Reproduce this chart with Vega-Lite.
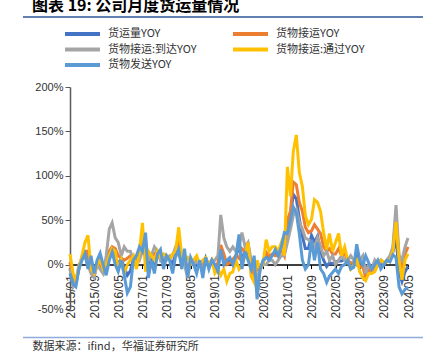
{
  "$schema": "https://vega.github.io/schema/vega-lite/v6.json",
  "autosize": {"type": "none"},
  "width": 338,
  "height": 222,
  "padding": {"left": 70, "top": 87, "right": 26, "bottom": 54},
  "background": "white",
  "config": {"view": {"stroke": null}, "font": "Liberation Sans", "axisX": {"labelOverlap": false}},
  "title": {"text": "图表 19: 公司月度货运量情况", "anchor": "start", "font": "Noto Sans CJK SC", "fontSize": 16, "fontWeight": "bold", "color": "#000", "dx": -38, "offset": 2, "frame": "group"},
  "datasets": {
    "t": [
      {"d":"2015-01","货运量YOY":-4,"货物接运YOY":3,"货物接运:到达YOY":-5,"货物接运:通过YOY":12,"货物发送YOY":-10},
      {"d":"2015-02","货运量YOY":-20,"货物接运YOY":-18,"货物接运:到达YOY":-25,"货物接运:通过YOY":-10,"货物发送YOY":-22},
      {"d":"2015-03","货运量YOY":-22,"货物接运YOY":-19,"货物接运:到达YOY":-20,"货物接运:通过YOY":-18,"货物发送YOY":-25},
      {"d":"2015-04","货运量YOY":-4,"货物接运YOY":-3,"货物接运:到达YOY":0,"货物接运:通过YOY":-5,"货物发送YOY":-5},
      {"d":"2015-05","货运量YOY":6,"货物接运YOY":8,"货物接运:到达YOY":5,"货物接运:通过YOY":10,"货物发送YOY":5},
      {"d":"2015-06","货运量YOY":13,"货物接运YOY":15,"货物接运:到达YOY":10,"货物接运:通过YOY":25,"货物发送YOY":12},
      {"d":"2015-07","货运量YOY":5,"货物接运YOY":15,"货物接运:到达YOY":0,"货物接运:通过YOY":33,"货物发送YOY":-5},
      {"d":"2015-08","货运量YOY":1,"货物接运YOY":-8,"货物接运:到达YOY":-10,"货物接运:通过YOY":-5,"货物发送YOY":10},
      {"d":"2015-09","货运量YOY":-11,"货物接运YOY":-12,"货物接运:到达YOY":-15,"货物接运:通过YOY":-10,"货物发送YOY":-10},
      {"d":"2015-10","货运量YOY":2,"货物接运YOY":0,"货物接运:到达YOY":0,"货物接运:通过YOY":0,"货物发送YOY":5},
      {"d":"2015-11","货运量YOY":6,"货物接运YOY":0,"货物接运:到达YOY":-5,"货物接运:通过YOY":5,"货物发送YOY":13},
      {"d":"2015-12","货运量YOY":-4,"货物接运YOY":-8,"货物接运:到达YOY":-10,"货物接运:通过YOY":-5,"货物发送YOY":0},
      {"d":"2016-01","货运量YOY":-3,"货物接运YOY":5,"货物接运:到达YOY":10,"货物接运:通过YOY":0,"货物发送YOY":-12},
      {"d":"2016-02","货运量YOY":10,"货物接运YOY":15,"货物接运:到达YOY":40,"货物接运:通过YOY":10,"货物发送YOY":5},
      {"d":"2016-03","货运量YOY":17,"货物接运YOY":20,"货物接运:到达YOY":47,"货物接运:通过YOY":18,"货物发送YOY":14},
      {"d":"2016-04","货运量YOY":9,"货物接运YOY":18,"货物接运:到达YOY":30,"货物接运:通过YOY":15,"货物发送YOY":0},
      {"d":"2016-05","货运量YOY":1,"货物接运YOY":10,"货物接运:到达YOY":25,"货物接运:通过YOY":-5,"货物发送YOY":-8},
      {"d":"2016-06","货运量YOY":6,"货物接运YOY":7,"货物接运:到达YOY":10,"货物接运:通过YOY":5,"货物发送YOY":5},
      {"d":"2016-07","货运量YOY":-3,"货物接运YOY":5,"货物接运:到达YOY":20,"货物接运:通过YOY":-10,"货物发送YOY":-12},
      {"d":"2016-08","货运量YOY":-12,"货物接运YOY":7,"货物接运:到达YOY":15,"货物接运:通过YOY":0,"货物发送YOY":-32},
      {"d":"2016-09","货运量YOY":-7,"货物接运YOY":10,"货物接运:到达YOY":15,"货物接运:通过YOY":5,"货物发送YOY":-25},
      {"d":"2016-10","货运量YOY":6,"货物接运YOY":7,"货物接运:到达YOY":5,"货物接运:通过YOY":10,"货物发送YOY":5},
      {"d":"2016-11","货运量YOY":6,"货物接运YOY":2,"货物接运:到达YOY":10,"货物接运:通过YOY":-5,"货物发送YOY":10},
      {"d":"2016-12","货运量YOY":15,"货物接运YOY":10,"货物接运:到达YOY":5,"货物接运:通过YOY":15,"货物发送YOY":20},
      {"d":"2017-01","货运量YOY":21,"货物接运YOY":28,"货物接运:到达YOY":15,"货物接运:通过YOY":47,"货物发送YOY":15},
      {"d":"2017-02","货运量YOY":23,"货物接运YOY":10,"货物接运:到达YOY":28,"货物接运:通过YOY":-8,"货物发送YOY":36},
      {"d":"2017-03","货运量YOY":-2,"货物接运YOY":10,"货物接运:到达YOY":5,"货物接运:通过YOY":15,"货物发送YOY":-15},
      {"d":"2017-04","货运量YOY":7,"货物接运YOY":10,"货物接运:到达YOY":10,"货物接运:通过YOY":10,"货物发送YOY":5},
      {"d":"2017-05","货运量YOY":1,"货物接运YOY":12,"货物接运:到达YOY":20,"货物接运:通过YOY":5,"货物发送YOY":-10},
      {"d":"2017-06","货运量YOY":13,"货物接运YOY":15,"货物接运:到达YOY":15,"货物接运:通过YOY":15,"货物发送YOY":12},
      {"d":"2017-07","货运量YOY":11,"货物接运YOY":6,"货物接运:到达YOY":5,"货物接运:通过YOY":8,"货物发送YOY":17},
      {"d":"2017-08","货运量YOY":3,"货物接运YOY":11,"货物接运:到达YOY":10,"货物接运:通过YOY":12,"货物发送YOY":-5},
      {"d":"2017-09","货运量YOY":8,"货物接运YOY":7,"货物接运:到达YOY":5,"货物接运:通过YOY":10,"货物发送YOY":10},
      {"d":"2017-10","货运量YOY":6,"货物接运YOY":7,"货物接运:到达YOY":10,"货物接运:通过YOY":5,"货物发送YOY":5},
      {"d":"2017-11","货运量YOY":0,"货物接运YOY":11,"货物接运:到达YOY":10,"货物接运:通过YOY":12,"货物发送YOY":-10},
      {"d":"2017-12","货运量YOY":13,"货物接运YOY":17,"货物接运:到达YOY":20,"货物接运:通过YOY":15,"货物发送YOY":10},
      {"d":"2018-01","货运量YOY":21,"货物接运YOY":26,"货物接运:到达YOY":10,"货物接运:通过YOY":42,"货物发送YOY":17},
      {"d":"2018-02","货运量YOY":1,"货物接运YOY":7,"货物接运:到达YOY":5,"货物接运:通过YOY":10,"货物发送YOY":-5},
      {"d":"2018-03","货运量YOY":10,"货物接运YOY":3,"货物接运:到达YOY":0,"货物接运:通过YOY":5,"货物发送YOY":18},
      {"d":"2018-04","货运量YOY":-9,"货物接运YOY":-3,"货物接运:到达YOY":-15,"货物接运:通过YOY":8,"货物发送YOY":-15},
      {"d":"2018-05","货运量YOY":5,"货物接运YOY":2,"货物接运:到达YOY":5,"货物接运:通过YOY":0,"货物发送YOY":8},
      {"d":"2018-06","货运量YOY":1,"货物接运YOY":3,"货物接运:到达YOY":0,"货物接运:通过YOY":5,"货物发送YOY":0},
      {"d":"2018-07","货运量YOY":-1,"货物接运YOY":7,"货物接运:到达YOY":5,"货物接运:通过YOY":10,"货物发送YOY":-10},
      {"d":"2018-08","货运量YOY":2,"货物接运YOY":0,"货物接运:到达YOY":0,"货物接运:通过YOY":0,"货物发送YOY":5},
      {"d":"2018-09","货运量YOY":-7,"货物接运YOY":0,"货物接运:到达YOY":-5,"货物接运:通过YOY":5,"货物发送YOY":-15},
      {"d":"2018-10","货运量YOY":7,"货物接运YOY":6,"货物接运:到达YOY":5,"货物接运:通过YOY":8,"货物发送YOY":8},
      {"d":"2018-11","货运量YOY":-2,"货物接运YOY":0,"货物接运:到达YOY":0,"货物接运:通过YOY":0,"货物发送YOY":-5},
      {"d":"2018-12","货运量YOY":5,"货物接运YOY":5,"货物接运:到达YOY":5,"货物接运:通过YOY":5,"货物发送YOY":5},
      {"d":"2019-01","货运量YOY":-1,"货物接运YOY":-2,"货物接运:到达YOY":5,"货物接运:通过YOY":-10,"货物发送YOY":0},
      {"d":"2019-02","货运量YOY":-3,"货物接运YOY":2,"货物接运:到达YOY":10,"货物接运:通过YOY":-5,"货物发送YOY":-8},
      {"d":"2019-03","货运量YOY":19,"货物接运YOY":22,"货物接运:到达YOY":56,"货物接运:通过YOY":-12,"货物发送YOY":17},
      {"d":"2019-04","货运量YOY":6,"货物接运YOY":12,"货物接运:到达YOY":30,"货物接运:通过YOY":-5,"货物发送YOY":0},
      {"d":"2019-05","货运量YOY":2,"货物接运YOY":0,"货物接运:到达YOY":20,"货物接运:通过YOY":-19,"货物发送YOY":5},
      {"d":"2019-06","货运量YOY":5,"货物接运YOY":2,"货物接运:到达YOY":15,"货物接运:通过YOY":-10,"货物发送YOY":8},
      {"d":"2019-07","货运量YOY":3,"货物接运YOY":6,"货物接运:到达YOY":20,"货物接运:通过YOY":-8,"货物发送YOY":0},
      {"d":"2019-08","货运量YOY":10,"货物接运YOY":10,"货物接运:到达YOY":15,"货物接运:通过YOY":5,"货物发送YOY":10},
      {"d":"2019-09","货运量YOY":20,"货物接运YOY":7,"货物接运:到达YOY":20,"货物接运:通过YOY":-5,"货物发送YOY":34},
      {"d":"2019-10","货运量YOY":6,"货物接运YOY":18,"货物接运:到达YOY":36,"货物接运:通过YOY":0,"货物发送YOY":-5},
      {"d":"2019-11","货运量YOY":15,"货物接运YOY":15,"货物接运:到达YOY":20,"货物接运:通过YOY":10,"货物发送YOY":15},
      {"d":"2019-12","货运量YOY":15,"货物接运YOY":25,"货物接运:到达YOY":25,"货物接运:通过YOY":25,"货物发送YOY":5},
      {"d":"2020-01","货运量YOY":-4,"货物接运YOY":-4,"货物接运:到达YOY":5,"货物接运:通过YOY":-13,"货物发送YOY":-5},
      {"d":"2020-02","货运量YOY":-1,"货物接运YOY":-12,"货物接运:到达YOY":-5,"货物接运:通过YOY":-20,"货物发送YOY":10},
      {"d":"2020-03","货运量YOY":-22,"货物接运YOY":-5,"货物接运:到达YOY":-15,"货物接运:通过YOY":5,"货物发送YOY":-39},
      {"d":"2020-04","货运量YOY":-5,"货物接运YOY":-5,"货物接运:到达YOY":-5,"货物接运:通过YOY":-5,"货物发送YOY":-5},
      {"d":"2020-05","货运量YOY":3,"货物接运YOY":1,"货物接运:到达YOY":0,"货物接运:通过YOY":2,"货物发送YOY":5},
      {"d":"2020-06","货运量YOY":11,"货物接运YOY":14,"货物接运:到达YOY":0,"货物接运:通过YOY":28,"货物发送YOY":8},
      {"d":"2020-07","货运量YOY":7,"货物接运YOY":10,"货物接运:到达YOY":5,"货物接运:通过YOY":15,"货物发送YOY":5},
      {"d":"2020-08","货运量YOY":11,"货物接运YOY":12,"货物接运:到达YOY":5,"货物接运:通过YOY":20,"货物发送YOY":10},
      {"d":"2020-09","货运量YOY":13,"货物接运YOY":10,"货物接运:到达YOY":0,"货物接运:通过YOY":20,"货物发送YOY":17},
      {"d":"2020-10","货运量YOY":10,"货物接运YOY":10,"货物接运:到达YOY":5,"货物接运:通过YOY":15,"货物发送YOY":10},
      {"d":"2020-11","货运量YOY":18,"货物接运YOY":17,"货物接运:到达YOY":10,"货物接运:通过YOY":25,"货物发送YOY":20},
      {"d":"2020-12","货运量YOY":23,"货物接运YOY":10,"货物接运:到达YOY":10,"货物接运:通过YOY":10,"货物发送YOY":36},
      {"d":"2021-01","货运量YOY":42,"货物接运YOY":50,"货物接运:到达YOY":25,"货物接运:通过YOY":110,"货物发送YOY":35},
      {"d":"2021-02","货运量YOY":55,"货物接运YOY":60,"货物接运:到达YOY":40,"货物接运:通过YOY":77,"货物发送YOY":50},
      {"d":"2021-03","货运量YOY":79,"货物接运YOY":93,"货物接运:到达YOY":55,"货物接运:通过YOY":127,"货物发送YOY":65},
      {"d":"2021-04","货运量YOY":74,"货物接运YOY":90,"货物接运:到达YOY":62,"货物接运:通过YOY":146,"货物发送YOY":58},
      {"d":"2021-05","货运量YOY":52,"货物接运YOY":70,"货物接运:到达YOY":48,"货物接运:通过YOY":104,"货物发送YOY":35},
      {"d":"2021-06","货运量YOY":32,"货物接运YOY":60,"货物接运:到达YOY":40,"货物接运:通过YOY":88,"货物发送YOY":5},
      {"d":"2021-07","货运量YOY":18,"货物接运YOY":42,"货物接运:到达YOY":30,"货物接运:通过YOY":55,"货物发送YOY":-5},
      {"d":"2021-08","货运量YOY":18,"货物接运YOY":36,"货物接运:到达YOY":28,"货物接运:通过YOY":45,"货物发送YOY":0},
      {"d":"2021-09","货运量YOY":33,"货物接运YOY":38,"货物接运:到达YOY":25,"货物接运:通过YOY":51,"货物发送YOY":28},
      {"d":"2021-10","货运量YOY":25,"货物接运YOY":45,"货物接运:到达YOY":20,"货物接运:通过YOY":73,"货物发送YOY":5},
      {"d":"2021-11","货运量YOY":32,"货物接运YOY":40,"货物接运:到达YOY":30,"货物接运:通过YOY":70,"货物发送YOY":25},
      {"d":"2021-12","货运量YOY":15,"货物接运YOY":35,"货物接运:到达YOY":20,"货物接运:通过YOY":60,"货物发送YOY":-5},
      {"d":"2022-01","货运量YOY":5,"货物接运YOY":20,"货物接运:到达YOY":10,"货物接运:通过YOY":36,"货物发送YOY":-10},
      {"d":"2022-02","货运量YOY":-2,"货物接运YOY":15,"货物接运:到达YOY":15,"货物接运:通过YOY":17,"货物发送YOY":-20},
      {"d":"2022-03","货运量YOY":2,"货物接运YOY":18,"货物接运:到达YOY":5,"货物接运:通过YOY":35,"货物发送YOY":-13},
      {"d":"2022-04","货运量YOY":1,"货物接运YOY":12,"货物接运:到达YOY":10,"货物接运:通过YOY":15,"货物发送YOY":-9},
      {"d":"2022-05","货运量YOY":3,"货物接运YOY":12,"货物接运:到达YOY":0,"货物接运:通过YOY":25,"货物发送YOY":-5},
      {"d":"2022-06","货运量YOY":4,"货物接运YOY":18,"货物接运:到达YOY":5,"货物接运:通过YOY":35,"货物发送YOY":-10},
      {"d":"2022-07","货运量YOY":4,"货物接运YOY":10,"货物接运:到达YOY":10,"货物接运:通过YOY":10,"货物发送YOY":-2},
      {"d":"2022-08","货运量YOY":6,"货物接运YOY":12,"货物接运:到达YOY":5,"货物接运:通过YOY":20,"货物发送YOY":0},
      {"d":"2022-09","货运量YOY":5,"货物接运YOY":5,"货物接运:到达YOY":5,"货物接运:通过YOY":5,"货物发送YOY":5},
      {"d":"2022-10","货运量YOY":-1,"货物接运YOY":2,"货物接运:到达YOY":10,"货物接运:通过YOY":-5,"货物发送YOY":-5},
      {"d":"2022-11","货运量YOY":0,"货物接运YOY":2,"货物接运:到达YOY":5,"货物接运:通过YOY":0,"货物发送YOY":-3},
      {"d":"2022-12","货运量YOY":12,"货物接运YOY":2,"货物接运:到达YOY":0,"货物接运:通过YOY":5,"货物发送YOY":23},
      {"d":"2023-01","货运量YOY":1,"货物接运YOY":-2,"货物接运:到达YOY":5,"货物接运:通过YOY":-8,"货物发送YOY":5},
      {"d":"2023-02","货运量YOY":-1,"货物接运YOY":-3,"货物接运:到达YOY":10,"货物接运:通过YOY":-15,"货物发送YOY":0},
      {"d":"2023-03","货运量YOY":-2,"货物接运YOY":-14,"货物接运:到达YOY":-10,"货物接运:通过YOY":-18,"货物发送YOY":10},
      {"d":"2023-04","货运量YOY":-1,"货物接运YOY":-5,"货物接运:到达YOY":0,"货物接运:通过YOY":-10,"货物发送YOY":2},
      {"d":"2023-05","货运量YOY":-6,"货物接运YOY":-8,"货物接运:到达YOY":-5,"货物接运:通过YOY":-10,"货物发送YOY":-5},
      {"d":"2023-06","货运量YOY":-1,"货物接运YOY":-2,"货物接运:到达YOY":5,"货物接运:通过YOY":-8,"货物发送YOY":0},
      {"d":"2023-07","货运量YOY":2,"货物接运YOY":0,"货物接运:到达YOY":0,"货物接运:通过YOY":0,"货物发送YOY":5},
      {"d":"2023-08","货运量YOY":0,"货物接运YOY":5,"货物接运:到达YOY":5,"货物接运:通过YOY":5,"货物发送YOY":-5},
      {"d":"2023-09","货运量YOY":1,"货物接运YOY":2,"货物接运:到达YOY":0,"货物接运:通过YOY":3,"货物发送YOY":0},
      {"d":"2023-10","货运量YOY":4,"货物接运YOY":4,"货物接运:到达YOY":5,"货物接运:通过YOY":3,"货物发送YOY":5},
      {"d":"2023-11","货运量YOY":5,"货物接运YOY":7,"货物接运:到达YOY":10,"货物接运:通过YOY":5,"货物发送YOY":3},
      {"d":"2023-12","货运量YOY":14,"货物接运YOY":17,"货物接运:到达YOY":20,"货物接运:通过YOY":15,"货物发送YOY":11},
      {"d":"2024-01","货运量YOY":31,"货物接运YOY":55,"货物接运:到达YOY":67,"货物接运:通过YOY":48,"货物发送YOY":8},
      {"d":"2024-02","货运量YOY":-9,"货物接运YOY":7,"货物接运:到达YOY":10,"货物接运:通过YOY":5,"货物发送YOY":-25},
      {"d":"2024-03","货运量YOY":-19,"货物接运YOY":-5,"货物接运:到达YOY":5,"货物接运:通过YOY":-17,"货物发送YOY":-33},
      {"d":"2024-04","货运量YOY":-8,"货物接运YOY":12,"货物接运:到达YOY":20,"货物接运:通过YOY":5,"货物发送YOY":-28},
      {"d":"2024-05","货运量YOY":-2,"货物接运YOY":20,"货物接运:到达YOY":30,"货物接运:通过YOY":12,"货物发送YOY":-25}
    ]
  },
  "resolve": {"scale": {"x": "independent", "y": "independent"}},
  "layer": [
    {
      "data": {"name": "t"},
      "transform": [{"fold": ["货运量YOY", "货物接运YOY", "货物接运:到达YOY", "货物接运:通过YOY", "货物发送YOY"], "as": ["s", "v"]}],
      "mark": {"type": "line", "strokeWidth": 3},
      "encoding": {
        "x": {
          "field": "d", "type": "temporal",
          "scale": {"type": "utc", "domain": [{"year": 2015, "month": 1, "date": 1, "utc": true}, {"year": 2024, "month": 5, "date": 1, "utc": true}]},
          "axis": {
            "values": [
              {"year": 2015, "month": 1, "date": 1, "utc": true},
              {"year": 2015, "month": 9, "date": 1, "utc": true},
              {"year": 2016, "month": 5, "date": 1, "utc": true},
              {"year": 2017, "month": 1, "date": 1, "utc": true},
              {"year": 2017, "month": 9, "date": 1, "utc": true},
              {"year": 2018, "month": 5, "date": 1, "utc": true},
              {"year": 2019, "month": 1, "date": 1, "utc": true},
              {"year": 2019, "month": 9, "date": 1, "utc": true},
              {"year": 2020, "month": 5, "date": 1, "utc": true},
              {"year": 2021, "month": 1, "date": 1, "utc": true},
              {"year": 2021, "month": 9, "date": 1, "utc": true},
              {"year": 2022, "month": 5, "date": 1, "utc": true},
              {"year": 2023, "month": 1, "date": 1, "utc": true},
              {"year": 2023, "month": 9, "date": 1, "utc": true},
              {"year": 2024, "month": 5, "date": 1, "utc": true}
            ],
            "format": "%Y/%m",
            "labelAngle": -90,
            "labelFontSize": 12,
            "labelColor": "#333333",
            "labelPadding": 6,
            "labelFlush": false,
            "labelOverlap": false,
            "offset": -44.4,
            "domainColor": "#000000",
            "domainWidth": 1.5,
            "tickColor": "#000000",
            "tickSize": 4,
            "grid": false,
            "title": "数据来源：ifind，华福证券研究所",
            "titleFont": "Noto Sans CJK SC",
            "titleFontSize": 11,
            "titleFontWeight": "normal",
            "titleColor": "#333333",
            "titleX": -38,
            "titleY": 85,
            "titleAlign": "left",
            "titleAnchor": null,
            "titleBaseline": "alphabetic"
          }
        },
        "y": {
          "field": "v", "type": "quantitative",
          "scale": {"domain": [-50, 200]},
          "axis": {"values": [-50, 0, 50, 100, 150, 200], "labelExpr": "datum.value + '%'", "labelFontSize": 11, "labelColor": "#333333", "domainColor": "#595959", "domainWidth": 1.5, "tickColor": "#595959", "tickSize": 5, "labelPadding": 2, "grid": false, "title": null}
        },
        "color": {
          "field": "s", "type": "nominal",
          "scale": {"domain": ["货运量YOY", "货物接运:到达YOY", "货物发送YOY", "货物接运YOY", "货物接运:通过YOY"], "range": ["#4472C4", "#A5A5A5", "#5B9BD5", "#ED7D31", "#FFC000"]},
          "legend": {"orient": "none", "legendX": -7, "legendY": -59, "direction": "vertical", "columns": 2, "title": null, "symbolType": "stroke", "symbolSize": 1225, "symbolStrokeWidth": 4, "clipHeight": 12, "labelFont": "Noto Sans CJK SC", "labelFontSize": 11, "labelColor": "#333333", "labelOffset": 6, "columnPadding": 34, "rowPadding": 3.5, "labelLimit": 300, "padding": 0}
        }
      }
    },
    {
      "data": {"values": [{}]},
      "mark": {"type": "rule", "color": "#2F5597", "strokeWidth": 1.5},
      "encoding": {
        "x": {"datum": {"year": 2013, "month": 9, "date": 14, "utc": true}, "type": "temporal", "axis": null, "scale": {"type": "utc", "domain": [{"year": 2015, "month": 1, "date": 1, "utc": true}, {"year": 2024, "month": 5, "date": 1, "utc": true}]}},
        "x2": {"datum": {"year": 2024, "month": 9, "date": 29, "utc": true}},
        "y": {"datum": 278.7, "type": "quantitative", "axis": null, "scale": {"domain": [-50, 200]}}
      }
    },
    {
      "data": {"values": [{}]},
      "mark": {"type": "rule", "color": "#8FAADC", "strokeWidth": 1.5},
      "encoding": {
        "x": {"datum": {"year": 2013, "month": 9, "date": 14, "utc": true}, "type": "temporal", "axis": null, "scale": {"type": "utc", "domain": [{"year": 2015, "month": 1, "date": 1, "utc": true}, {"year": 2024, "month": 5, "date": 1, "utc": true}]}},
        "x2": {"datum": {"year": 2024, "month": 9, "date": 29, "utc": true}},
        "y": {"datum": -82, "type": "quantitative", "axis": null, "scale": {"domain": [-50, 200]}}
      }
    }
  ]
}
